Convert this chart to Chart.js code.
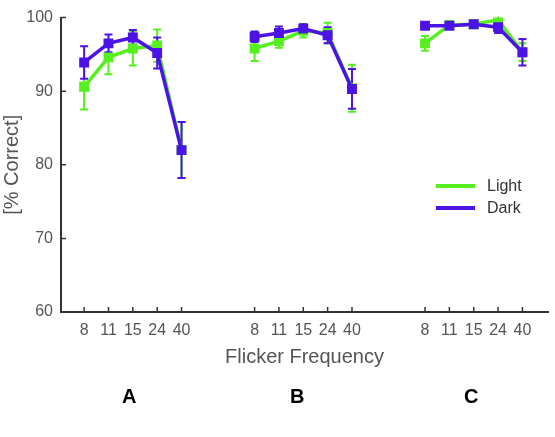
<!DOCTYPE html>
<html>
<head>
<meta charset="utf-8">
<script src="https://cdn.jsdelivr.net/npm/chart.js@4.4.1/dist/chart.umd.min.js"></script>
<style>
  html, body { margin: 0; padding: 0; background: #fff; }
  #wrap { width: 555px; height: 437px; position: relative; }
</style>
</head>
<body>
<div id="wrap"><canvas id="chart"></canvas></div>
<script>
// values
const freqLabels = ['8', '11', '15', '24', '40']
const groupNames = ['A', 'B', 'C']
const groupStarts = [1, 8, 15]
const yTicks = [60, 70, 80, 90, 100]

const lightMean = [90.6, 94.6, 95.8, 96.2, 82.0,  95.8, 96.8, 98.2, 97.9, 90.4,  96.5, 99.0, 99.1, 99.7, 95.3]
const lightErr  = [3.1, 2.3, 2.3, 2.2, 3.8,  1.7, 0.9, 0.9, 1.4, 3.2,  1.0, 0.4, 0.3, 0.7, 1.2]
const darkMean  = [93.9, 96.5, 97.3, 95.2, 82.0,  97.4, 97.9, 98.5, 97.6, 90.3,  98.9, 98.9, 99.1, 98.7, 95.3]
const darkErr   = [2.2, 1.2, 1.0, 2.1, 3.8,  0.7, 0.9, 0.6, 1.1, 2.7,  0.3, 0.4, 0.3, 0.8, 1.8]

const green = '#55f01e'
const purple = '#4c12e6'
const axisColor = '#333'
const textColor = '#555'
const font = 'Liberation Sans, Arial, sans-serif'

// x position of every tick, and a label lookup
const xPositions = []
const xLabelAt = {}
groupStarts.forEach(s => {
    freqLabels.forEach((f, k) => {
        xPositions.push(s + k)
        xLabelAt[s + k] = f
    })
})

// points, with a null between groups so the lines break
const toPoints = (vals) => {
    const pts = []
    vals.forEach((v, i) => {
        if (i > 0 && i % freqLabels.length === 0) pts.push({ x: xPositions[i] - 1.5, y: null })
        pts.push({ x: xPositions[i], y: v })
    })
    return pts
}
const toErr = (errs) => {
    const out = []
    errs.forEach((e, i) => {
        if (i > 0 && i % freqLabels.length === 0) out.push(null)
        out.push(e)
    })
    return out
}

const errorBars = {
    id: 'errorBars',
    beforeDatasetsDraw(chart) {
        const { ctx, chartArea, scales: { y } } = chart
        ctx.save()
        ctx.beginPath()
        ctx.rect(chartArea.left, chartArea.top - 1, chartArea.right - chartArea.left, chartArea.bottom - chartArea.top + 1)
        ctx.clip()
        chart.data.datasets.forEach((ds, i) => {
            const meta = chart.getDatasetMeta(i)
            ctx.strokeStyle = ds.borderColor
            ctx.lineWidth = 2
            meta.data.forEach((pt, j) => {
                const e = ds.errors[j]
                const v = ds.data[j].y
                if (e == null || v == null) return
                const top = y.getPixelForValue(v + e)
                const bot = y.getPixelForValue(v - e)
                ctx.beginPath()
                ctx.moveTo(pt.x, top); ctx.lineTo(pt.x, bot)
                ctx.moveTo(pt.x - 4, top); ctx.lineTo(pt.x + 4, top)
                ctx.moveTo(pt.x - 4, bot); ctx.lineTo(pt.x + 4, bot)
                ctx.stroke()
            })
        })
        ctx.restore()
    }
}

const extras = {
    id: 'extras',
    afterDraw(chart) {
        const { ctx, chartArea, scales: { x, y } } = chart
        ctx.save()
        // inward tick marks
        ctx.strokeStyle = axisColor
        ctx.lineWidth = 1.5
        ctx.beginPath()
        xPositions.forEach(p => {
            const px = x.getPixelForValue(p)
            ctx.moveTo(px, chartArea.bottom)
            ctx.lineTo(px, chartArea.bottom - 5)
        })
        yTicks.forEach(t => {
            const py = y.getPixelForValue(t)
            ctx.moveTo(chartArea.left, py)
            ctx.lineTo(chartArea.left + 5, py)
        })
        ctx.stroke()

        // legend
        const items = [chart.data.datasets[0], chart.data.datasets[1]]
        ctx.font = '16px ' + font
        ctx.textBaseline = 'middle'
        items.forEach((ds, i) => {
            const ly = 186 + i * 22
            ctx.strokeStyle = ds.borderColor
            ctx.lineWidth = 4
            ctx.beginPath()
            ctx.moveTo(436, ly); ctx.lineTo(475, ly)
            ctx.stroke()
            ctx.fillStyle = '#333'
            ctx.textAlign = 'left'
            ctx.fillText(ds.label, 487, ly + 1)
        })

        // group letters
        ctx.font = 'bold 20px ' + font
        ctx.fillStyle = '#000'
        ctx.textAlign = 'center'
        const letterX = [2.85, 9.75, 16.9]
        groupNames.forEach((g, i) => {
            ctx.fillText(g, x.getPixelForValue(letterX[i]), 397)
        })
        ctx.restore()
    }
}

new Chart(document.getElementById('chart'), {
    type: 'line',
    data: {
        datasets: [
            {
                label: 'Light',
                data: toPoints(lightMean),
                errors: toErr(lightErr),
                borderColor: green,
                backgroundColor: green,
                borderWidth: 3.5,
                pointStyle: 'rect',
                pointRadius: 7,
                pointBorderWidth: 0,
                spanGaps: false,
                order: 2,
            },
            {
                label: 'Dark',
                data: toPoints(darkMean),
                errors: toErr(darkErr),
                borderColor: purple,
                backgroundColor: purple,
                borderWidth: 3.5,
                pointStyle: 'rect',
                pointRadius: 7,
                pointBorderWidth: 0,
                spanGaps: false,
                order: 1,
            },
        ]
    },
    options: {
        responsive: true,
        maintainAspectRatio: false,
        animation: false,
        layout: { padding: { top: 7, right: 7, bottom: 68, left: 0 } },
        plugins: {
            legend: { display: false },
            tooltip: { enabled: false },
        },
        scales: {
            x: {
                type: 'linear',
                min: 0.05,
                max: 20.05,
                afterBuildTicks: (scale) => {
                    scale.ticks = xPositions.map(v => ({ value: v }))
                },
                afterFit: (scale) => { scale.height = 57 },
                grid: { display: false, drawTicks: false },
                border: { display: true, color: axisColor, width: 2 },
                ticks: {
                    autoSkip: false,
                    maxRotation: 0,
                    padding: 9,
                    color: textColor,
                    font: { family: font, size: 16 },
                    callback: (v) => xLabelAt[v] || '',
                },
                title: {
                    display: true,
                    text: 'Flicker Frequency',
                    color: textColor,
                    padding: 0,
                    font: { family: font, size: 20 },
                },
            },
            y: {
                min: 60,
                max: 100,
                afterFit: (scale) => { scale.width = 61 },
                afterBuildTicks: (scale) => {
                    scale.ticks = yTicks.map(v => ({ value: v }))
                },
                grid: { display: false, drawTicks: false },
                border: { display: true, color: axisColor, width: 2 },
                ticks: {
                    padding: 8,
                    color: textColor,
                    font: { family: font, size: 16 },
                },
                title: {
                    display: true,
                    text: '[% Correct]',
                    color: textColor,
                    padding: 0,
                    font: { family: font, size: 20 },
                },
            },
        },
    },
    plugins: [errorBars, extras],
})
</script>
</body>
</html>
